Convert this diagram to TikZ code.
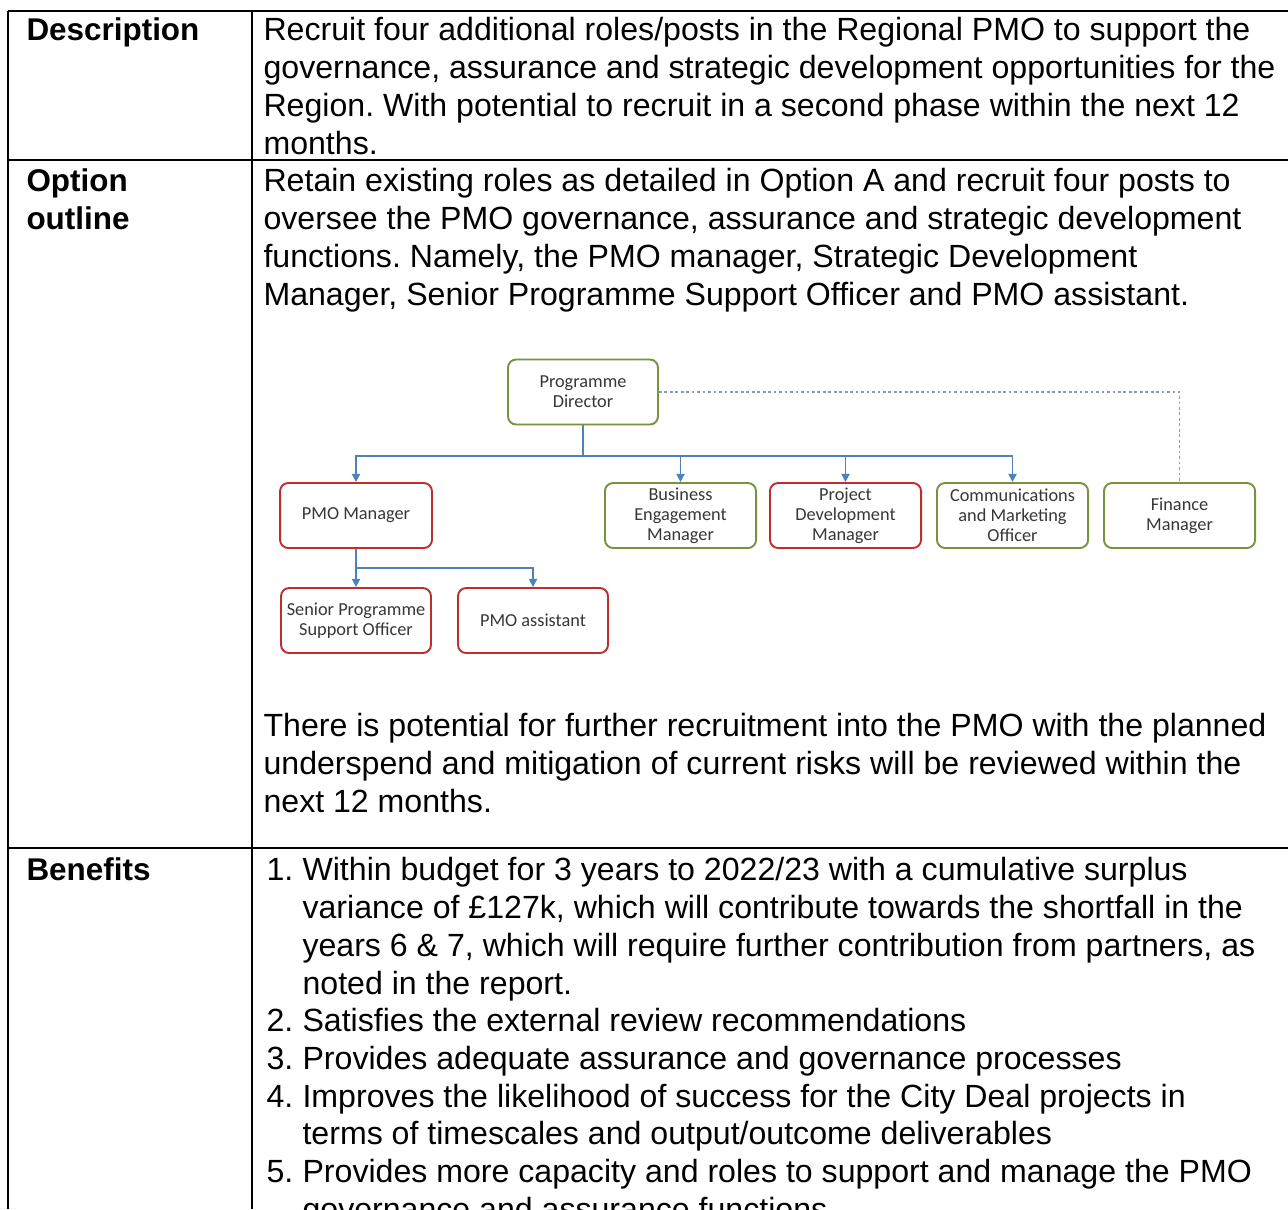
\documentclass[tikz,border=0pt]{standalone}
\usepackage{fontspec}
\setmainfont{Liberation Sans}
\newfontfamily\orgfont{Carlito}
\frenchspacing
\usetikzlibrary{arrows.meta}
\definecolor{orggreen}{RGB}{119,147,60}
\definecolor{orgred}{RGB}{192,45,45}
\definecolor{orgblue}{RGB}{79,129,189}
\definecolor{orgdot}{RGB}{140,155,185}
\definecolor{orgtext}{RGB}{55,55,55}
\tikzset{
  rule/.style={line width=0.8pt},
  body/.style={anchor=north west, inner sep=0pt, align=left, font=\fontsize{11.75}{13.8}\selectfont},
  rowhead/.style={body, font=\fontsize{11.5}{13.8}\selectfont\bfseries},
  role/.style={draw, rounded corners=3pt, line width=0.7pt, minimum height=23.8pt, minimum width=55.3pt,
    align=center, inner sep=1pt, text=orgtext, fill=white, font=\orgfont\fontsize{6.7}{7.3}\selectfont},
  kept/.style={role, draw=orggreen},
  newpost/.style={role, draw=orgred},
  link/.style={draw=orgblue, line width=0.6pt, -{Triangle[length=3pt,width=3pt]}},
  dotline/.style={draw=orgdot, line width=0.6pt, dash pattern=on 1pt off 1pt}
}
\begin{document}
\begin{tikzpicture}[x=0.366pt,y=-0.366pt]
    \useasboundingbox (0,0) rectangle (1288,1209);
    \clip (0,0) rectangle (1288,1209);
    % table rules
    \draw[rule] (8,11) -- (1288,11);
    \draw[rule] (8,160) -- (1288,160);
    \draw[rule] (8,848) -- (1288,848);
    \draw[rule] (8,11) -- (8,1209);
    \draw[rule] (252,11) -- (252,1209);
    % row heads
    \node[rowhead] (desc) at (26,14) {\strut Description};
    \node[rowhead] (outline) at (26,165) {\strut Option\\outline};
    \node[rowhead] (benefits) at (26,854) {\strut Benefits};
    % cell texts
    \node[body] (desctext) at (263,14) {\strut Recruit four additional roles/posts in the Regional PMO to support the\\
      governance, assurance and strategic development opportunities for the\\
      Region. With potential to recruit in a second phase within the next 12\\
      months.};
    \node[body] (outlinetext) at (263,165) {\strut Retain existing roles as detailed in Option A and recruit four posts to\\
      oversee the PMO governance, assurance and strategic development\\
      functions. Namely, the PMO manager, Strategic Development\\
      Manager, Senior Programme Support Officer and PMO assistant.};
    \node[body] (further) at (263,710) {\strut There is potential for further recruitment into the PMO with the planned\\
      underspend and mitigation of current risks will be reviewed within the\\
      next 12 months.};
    \node[body] (nums) at (266,854) {\strut 1.\\ \mbox{}\\ \mbox{}\\ \mbox{}\\ 2.\\ 3.\\ 4.\\ \mbox{}\\ 5.};
    \node[body] (benefittext) at (302,854) {\strut Within budget for 3 years to 2022/23 with a cumulative surplus\\
      variance of £127k, which will contribute towards the shortfall in the\\
      years 6 \& 7, which will require further contribution from partners, as\\
      noted in the report.\\
      Satisfies the external review recommendations\\
      Provides adequate assurance and governance processes\\
      Improves the likelihood of success for the City Deal projects in\\
      terms of timescales and output/outcome deliverables\\
      Provides more capacity and roles to support and manage the PMO\\
      governance and assurance functions};
    % org chart
    \node[kept, minimum width=54.9pt] (dir) at (583,392) {Programme\\Director};
    \node[newpost, minimum width=55.6pt] (pmo) at (356,515.5) {PMO Manager};
    \node[kept] (bem) at (680.5,515.5) {Business\\Engagement\\Manager};
    \node[newpost] (pdm) at (845.5,515.5) {Project\\Development\\Manager};
    \node[kept] (cmo) at (1012.5,515.5) {Communications\\and Marketing\\Officer};
    \node[kept] (fin) at (1179.5,515.5) {Finance\\Manager};
    \node[newpost, minimum width=54.9pt] (spso) at (356,620.5) {Senior Programme\\Support Officer};
    \node[newpost, minimum width=54.9pt] (pmoa) at (533,620.5) {PMO assistant};
    \coordinate (bus) at (0,456);
    \coordinate (subbus) at (0,568);
    \draw[link] (dir.south) -- (dir.south |- bus) -| (pmo.north);
    \draw[link] (dir.south |- bus) -| (bem.north);
    \draw[link] (dir.south |- bus) -| (pdm.north);
    \draw[link] (dir.south |- bus) -| (cmo.north);
    \draw[dotline] (dir.east) -| (fin.north);
    \draw[link] (pmo.south) -- (spso.north);
    \draw[link] (pmo.south |- subbus) -| (pmoa.north);
\end{tikzpicture}
\end{document}
